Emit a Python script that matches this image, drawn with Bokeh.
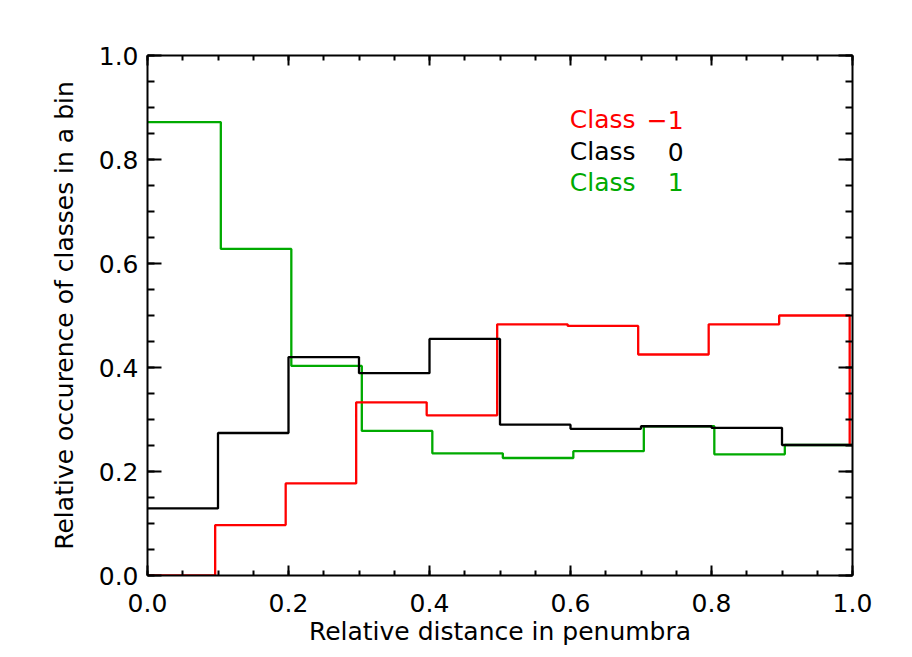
from bokeh.plotting import figure
from bokeh.models import LinearAxis, SingleIntervalTicker, Range1d, PrintfTickFormatter
from bokeh.embed import file_html
from bokeh.resources import INLINE
from bokeh.core.properties import value

# bin edges (relative distance)
edges = [0.0, 0.1, 0.2, 0.3, 0.4, 0.5, 0.6, 0.7, 0.8, 0.9, 1.0]

class_m1 = [0.0, 0.097, 0.177, 0.333, 0.308, 0.483, 0.480, 0.425, 0.483, 0.500]
class_0 = [0.129, 0.274, 0.420, 0.389, 0.455, 0.290, 0.282, 0.287, 0.284, 0.251]
class_1 = [0.872, 0.628, 0.403, 0.278, 0.235, 0.226, 0.239, 0.287, 0.233, 0.251]

legend_names = ["Class", "Class", "Class"]
legend_nums = ["\u22121", "0", "1"]
legend_colors = ["#FF0000", "#000000", "#00AA00"]

x_label = "Relative distance in penumbra"
y_label = "Relative occurence of classes in a bin"

FONT = "DejaVu Sans"
FS = "25px"

p = figure(frame_width=705, frame_height=520, output_backend="svg",
           toolbar_location=None, x_range=Range1d(0, 1), y_range=Range1d(0, 1),
           min_border_left=147, min_border_top=55, min_border_right=52,
           min_border_bottom=75, x_axis_location=None, y_axis_location=None)
p.grid.visible = False
p.outline_line_color = None
p.background_fill_color = "white"
p.border_fill_color = "white"


def steps(vals, offset, final_drop=None):
    xs, ys = [], []
    for i, v in enumerate(vals):
        x0 = edges[i] + (offset if i > 0 else 0.0)
        x1 = edges[i + 1] + (offset if i + 1 < len(vals) else 0.0)
        xs += [x0, x1]
        ys += [v, v]
    if final_drop is not None:
        xs[-1] = edges[-1] + offset
        xs.append(edges[-1] + offset)
        ys.append(final_drop)
    return xs, ys


LW = 2.3
xs, ys = steps(class_1, 0.004)
p.line(xs, ys, line_color="#00AA00", line_width=LW)
xs, ys = steps(class_m1, -0.004, final_drop=class_0[-1])
p.line(xs, ys, line_color="#FF0000", line_width=LW)
xs, ys = steps(class_0, 0.0)
p.line(xs, ys, line_color="#000000", line_width=LW)

leg_y = [0.876, 0.815, 0.756]
p.text(x=[0.599] * 3, y=leg_y, text=legend_names, text_color=legend_colors,
       text_font=value(FONT), text_font_size=FS, text_baseline="alphabetic",
       text_align="left")
p.text(x=[0.7606] * 3, y=leg_y, text=legend_nums, text_color=legend_colors,
       text_font=value(FONT), text_font_size=FS, text_baseline="alphabetic",
       text_align="right")


def make_axis(ticklen, minorlen, labels=True, label=None, standoff=12, lstandoff=8):
    ax = LinearAxis(ticker=SingleIntervalTicker(interval=0.2, num_minor_ticks=4))
    ax.axis_line_width = 2
    ax.axis_line_color = "black"
    ax.major_tick_in = ticklen
    ax.major_tick_out = 0
    ax.minor_tick_in = minorlen
    ax.minor_tick_out = 0
    ax.major_tick_line_width = 2
    ax.minor_tick_line_width = 2
    ax.major_tick_line_color = "black"
    ax.minor_tick_line_color = "black"
    ax.formatter = PrintfTickFormatter(format="%.1f")
    if labels:
        ax.major_label_text_font = FONT
        ax.major_label_text_font_size = FS
        ax.major_label_text_color = "black"
        ax.major_label_standoff = standoff
    else:
        ax.major_label_text_font_size = "0px"
        ax.major_label_text_alpha = 0
    if label:
        ax.axis_label = label
        ax.axis_label_text_font = FONT
        ax.axis_label_text_font_size = FS
        ax.axis_label_text_font_style = "normal"
        ax.axis_label_text_color = "black"
        ax.axis_label_standoff = lstandoff
    return ax


bottom = make_axis(10, 5, True, x_label, standoff=18, lstandoff=2)
left = make_axis(14, 7, True, y_label, standoff=9, lstandoff=17)
top = make_axis(10, 5, False)
right = make_axis(14, 7, False)

p.add_layout(bottom, "below")
p.add_layout(left, "left")
p.add_layout(top, "above")
p.add_layout(right, "right")

open("out.html", "w").write(file_html(p, INLINE))
